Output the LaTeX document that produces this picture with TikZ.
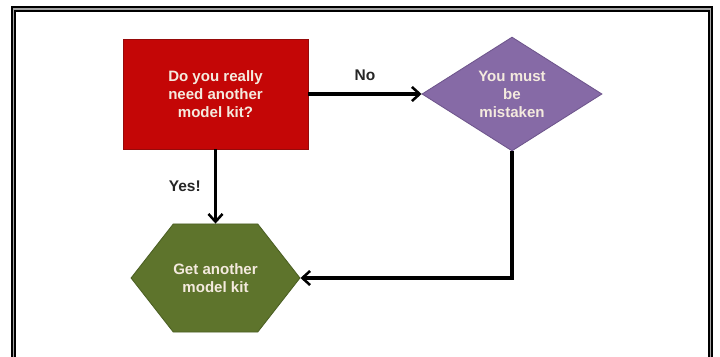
\documentclass[tikz,border=0pt]{standalone}
\usepackage{fontspec}
\setmainfont{Liberation Sans}
\usetikzlibrary{arrows.meta,shapes.geometric,shapes.symbols}
\definecolor{askred}{RGB}{196,6,6}
\definecolor{askredline}{RGB}{150,10,10}
\definecolor{mistpurple}{RGB}{134,106,166}
\definecolor{mistline}{RGB}{110,85,140}
\definecolor{kitgreen}{RGB}{94,116,44}
\definecolor{kitline}{RGB}{75,95,35}
\definecolor{boxtext}{RGB}{244,234,222}

\begin{document}
\begin{tikzpicture}[x=0.025cm, y=-0.025cm,
    boxtxt/.style={text=boxtext, font=\fontsize{10.7}{12.8}\selectfont\bfseries, align=center, inner sep=0pt},
    flow/.style={line width=2.4pt, -{Straight Barb[length=5.5pt,width=10pt,line width=1.8pt]}},
    lbl/.style={font=\fontsize{11}{13}\selectfont\bfseries, text=black!85}]
\useasboundingbox (0,0) rectangle (720,356);
\clip (0,0) rectangle (720,356);
\fill[white] (0,0) rectangle (720,356);
\draw[line width=1.4pt, double=black!35, double distance=1.1pt] (13.5,9) rectangle (710.5,380);

\node[boxtxt, rectangle, fill=askred, draw=askredline, line width=0.6pt,
      minimum width=4.625cm, minimum height=2.75cm] (ask) at (215.5,94)
      {Do you really\\need another\\model kit?};
\node[boxtxt, diamond, fill=mistpurple, draw=mistline, line width=0.6pt,
      minimum width=4.5cm, minimum height=2.75cm] (mistaken) at (512,94)
      {You must\\be\\mistaken};
\node[boxtxt, signal, signal to=east and west, signal pointer angle=104,
      fill=kitgreen, draw=kitline, line width=0.6pt,
      minimum width=4.175cm, minimum height=2.7cm] (getkit) at (215.5,278)
      {Get another\\model kit};

\draw[flow] (ask.east) -- (mistaken.west) node[lbl, midway, above=5pt] {No};
\draw[flow] (ask.south) -- (getkit.north) node[lbl, midway, left=6pt] {Yes!};
\draw[flow] (mistaken.south) |- (getkit.east);
\end{tikzpicture}
\end{document}
